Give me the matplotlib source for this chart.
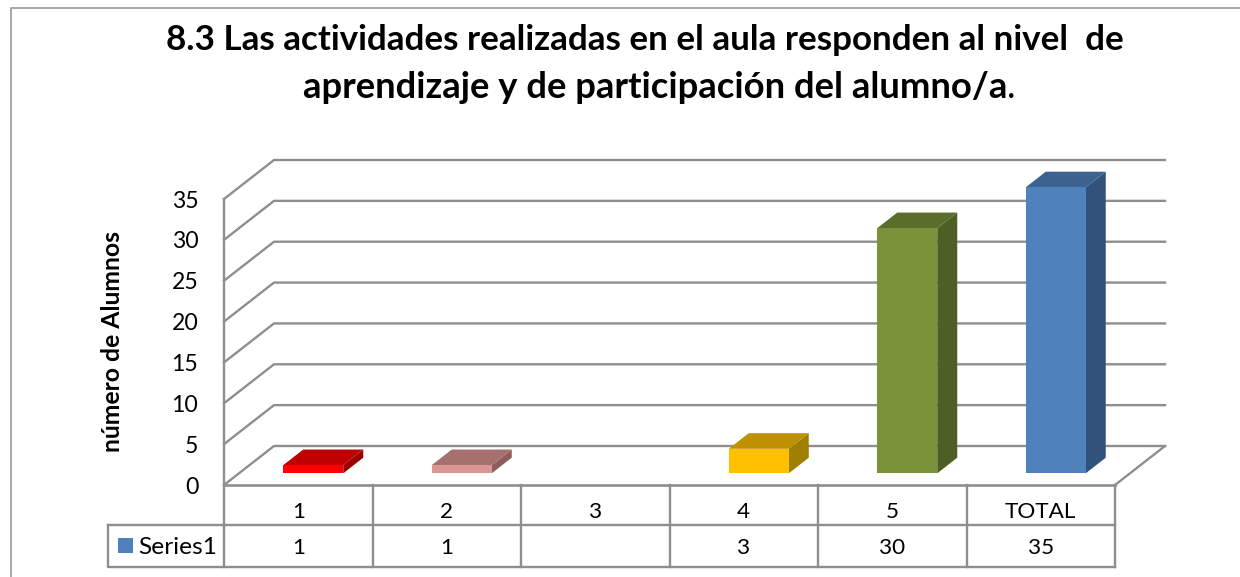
import matplotlib
matplotlib.use("Agg")
import matplotlib.pyplot as plt
from matplotlib.patches import Rectangle
from matplotlib.transforms import blended_transform_factory

plt.rcParams['font.family'] = ['Lato', 'DejaVu Sans']

categories = ["1", "2", "3", "4", "5", "TOTAL"]
values = [1, 1, None, 3, 30, 35]
table_labels = ["1", "1", "", "3", "30", "35"]
series_name = "Series1"
y_ticks = [0, 5, 10, 15, 20, 25, 30, 35]
front_colors = ["#FF0000", "#D99694", None, "#FFC000", "#7A923A", "#4F81BD"]
top_colors = ["#C00000", "#A6706F", None, "#BF9000", "#5A6E2C", "#3C6290"]
side_colors = ["#990000", "#8F5E5C", None, "#9F7F00", "#4E5F25", "#325379"]
title_l1 = "8.3 Las actividades realizadas en el aula responden al nivel  de"
title_l2 = "aprendizaje y de participación del alumno/a"
y_label = "número de Alumnos"

W, H = 1240, 577
GRID = "#8E8E8E"
fig = plt.figure(figsize=(W / 100, H / 100), dpi=100, facecolor="white")

# pixel frame of the front plane of the 3-D box
L, R, Y0, Y35 = 224, 1115, 485, 199
ax = fig.add_axes([L / W, 1 - Y0 / H, (R - L) / W, (Y0 - Y35) / H])
ax.set_xlim(0, len(categories))
ax.set_ylim(0, 35)
ax.patch.set_alpha(0)
for s in ax.spines.values():
    s.set_visible(False)

cat_px = (R - L) / len(categories)
val_px = (Y0 - Y35) / 35
DX = 50 / cat_px          # depth offset, in category units
DY = 39 / val_px          # depth offset, in value units
BW = 60 / cat_px          # bar width
D0, D1 = 0.30, 0.70       # bar depth span


def proj(x, v, d=0.0):
    return x + d * DX, v + d * DY


def line(xs, ys, lw=1.7, color=GRID, z=1):
    ax.plot(xs, ys, color=color, lw=lw, clip_on=False, zorder=z,
            solid_capstyle="projecting")


# gridlines on the back wall and left wall
for t in y_ticks:
    x0, v0 = proj(0, t, 0)
    x1, v1 = proj(0, t, 1)
    x2, v2 = proj(len(categories), t, 1)
    line([x0, x1, x2], [v0, v1, v2])
# floor and front edges
n = len(categories)
line([0, 0], [0, 35])
line([0, n], [0, 0], lw=1.9)
xe, ve = proj(n, 0, 1)
line([n, xe], [0, ve])

# bars
for i, v in enumerate(values):
    if v is None:
        continue
    xl = i + 0.5 - BW / 2
    xr = xl + BW
    a = proj(xl, 0, D0)
    b = proj(xr, 0, D0)
    c = proj(xr, v, D0)
    d = proj(xl, v, D0)
    e = proj(xr, 0, D1)
    f = proj(xr, v, D1)
    g = proj(xl, v, D1)
    ax.fill(*zip(b, e, f, c), color=side_colors[i], lw=0, clip_on=False, zorder=3)
    ax.fill(*zip(d, c, f, g), color=top_colors[i], lw=0, clip_on=False, zorder=3)
    ax.fill(*zip(a, b, c, d), color=front_colors[i], lw=0, clip_on=False, zorder=4)

# y ticks
ax.set_yticks(y_ticks)
ax.set_yticklabels([str(t) for t in y_ticks], fontsize=16.6, color="black", va="center_baseline")
ax.tick_params(axis="y", length=0, pad=18.5)
ax.set_ylabel(y_label, fontsize=17.8, fontweight="bold", labelpad=0)
ax.yaxis.set_label_coords((124 - L) / (R - L), (Y0 - 342) / (Y0 - Y35))

# data table below the chart: rows given in axes fraction
to_frac = lambda py: (Y0 - py) / (Y0 - Y35)
R1, R2 = to_frac(525), to_frac(566.5)
tr = blended_transform_factory(ax.transData, ax.transAxes)
ax.set_xticks([i + 0.5 for i in range(n)])
ax.set_xticklabels(categories, fontsize=16.2)
ax.tick_params(axis="x", length=0, pad=12.5)
for i in range(n + 1):
    ax.plot([i, i], [0, R2], transform=tr, color=GRID, lw=1.7, clip_on=False)
LEG = (108 - L) / cat_px
ax.plot([0, n], [R1, R1], transform=tr, color=GRID, lw=1.7, clip_on=False)
ax.plot([LEG, LEG, n], [R1, R2, R2], transform=tr, color=GRID, lw=1.7, clip_on=False)
ax.plot([LEG, 0], [R1, R1], transform=tr, color=GRID, lw=1.7, clip_on=False)
for i, t in enumerate(table_labels):
    ax.text(i + 0.5, to_frac(546), t, transform=tr, ha="center", va="center_baseline", fontsize=16.2)
ax.add_patch(Rectangle(((118 - L) / cat_px, to_frac(552.7)), 15 / cat_px,
                       to_frac(538.3) - to_frac(552.7), transform=tr,
                       facecolor="#4F81BD", edgecolor="none", clip_on=False))
ax.text((138 - L) / cat_px, to_frac(546), series_name, transform=tr, ha="left",
        va="center_baseline", fontsize=17.6)

# title
t1 = fig.text(644.5 / W, 1 - 37 / H, title_l1, ha="center", va="center_baseline",
              fontsize=25.2, fontweight="bold")
t2 = fig.text(655 / W, 1 - 84 / H, title_l2, ha="center", va="center_baseline",
              fontsize=26.2, fontweight="bold")
fig.canvas.draw()
bb = t2.get_window_extent()
fig.text(bb.x1 / W, 1 - 84 / H, ".", ha="left", va="center_baseline", fontsize=26.2)

# chart outer border (left and top only inside this crop)
fig.add_artist(plt.Line2D([11 / W, 11 / W, 1], [0, 1 - 8 / H, 1 - 8 / H],
                          color="#A0A0A0", lw=1.3))

fig.savefig("out.png", dpi=100)
